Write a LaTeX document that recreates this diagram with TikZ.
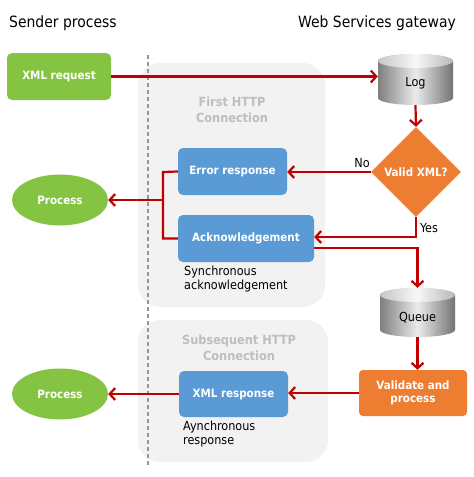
\documentclass[tikz,border=0pt]{standalone}
\usepackage{fontspec}
\setmainfont{DejaVu Sans Condensed}
\usetikzlibrary{arrows.meta,shapes.geometric,calc}
\definecolor{cgreen}{RGB}{132,196,66}
\definecolor{cblue}{RGB}{91,155,213}
\definecolor{corange}{RGB}{237,125,49}
\definecolor{cpanel}{RGB}{242,242,242}
\definecolor{chead}{RGB}{190,190,190}
\definecolor{cred}{RGB}{192,0,0}
\definecolor{cdash}{RGB}{150,150,150}
\newcommand{\cylshape}[4]{% cx, top, bottom, halfwidth
  \shade[left color=black!50, right color=black!55, middle color=black!8]
    (#1-#4,-#2-7) -- (#1-#4,-#3+7) arc[start angle=180,end angle=360,x radius=#4,y radius=7]
    -- (#1+#4,-#2-7) arc[start angle=0,end angle=180,x radius=#4,y radius=7] -- cycle;
  \shade[left color=black!22, right color=black!28, middle color=black!3]
    (#1,-#2-7) ellipse[x radius=#4,y radius=7];
}
\begin{document}
\begin{tikzpicture}[x=1pt,y=1pt,
  boxlbl/.style={font=\fontsize{11.5}{12.7}\selectfont\bfseries, text=white, align=center},
  gbox/.style={boxlbl, fill=cgreen, rounded corners=5pt, inner sep=0pt},
  bbox/.style={boxlbl, fill=cblue, rounded corners=5pt, inner sep=0pt},
  obox/.style={boxlbl, fill=corange, rounded corners=4pt, inner sep=0pt},
  proc/.style={boxlbl, ellipse, fill=cgreen, inner sep=0pt, minimum width=96pt, minimum height=51pt},
  cylnode/.style={inner sep=0pt, font=\fontsize{12.5}{14}\selectfont},
  panel/.style={fill=cpanel, rounded corners=22pt},
  headtxt/.style={font=\fontsize{12.6}{15.5}\selectfont\bfseries, text=chead, align=center},
  note/.style={font=\fontsize{12.5}{13.5}\selectfont, align=left, inner sep=0pt},
  title/.style={font=\fontsize{15.5}{18}\selectfont, inner sep=0pt},
  conn/.style={draw=cred, line width=2.2pt},
  arr/.style={conn, -{Straight Barb[length=5.5pt,width=12pt,line width=2.2pt]}},
]
\useasboundingbox (0,0) rectangle (474,-477);
% panels
\fill[panel] (138,-63) rectangle (325,-307);
\fill[panel] (138,-320) rectangle (328,-462);
\node[headtxt] (h1) at (232,-110) {First HTTP\\Connection};
\node[headtxt] (h2) at (239,-348) {Subsequent HTTP\\Connection};
% dashed separator
\draw[cdash, line width=1.2pt, dash pattern=on 4pt off 3pt] (148,-55) -- (148,-466);
% titles
\node[title, anchor=base west] (t1) at (9,-27) {Sender process};
\node[title, anchor=base east] (t2) at (456,-27) {Web Services gateway};
% cylinders
\cylshape{415.5}{54}{105}{37.5}
\cylshape{417.5}{288}{337}{37.5}
\node[cylnode, minimum width=75pt, minimum height=51pt, label={[cylnode, yshift=-4pt]center:Log}] (log) at (415.5,-79.5) {};
\node[cylnode, minimum width=75pt, minimum height=49pt, label={[cylnode, yshift=-5pt]center:Queue}] (queue) at (417.5,-312.5) {};
% nodes
\node[gbox, minimum width=104pt, minimum height=47pt] (xreq) at (59,-76.5) {XML request};
\node[diamond, aspect=1, fill=corange, minimum size=90pt, inner sep=0pt, boxlbl] (valid) at (416,-172) {Valid XML?};
\node[bbox, minimum width=109pt, minimum height=47pt] (err) at (232.5,-171.5) {Error response};
\node[bbox, minimum width=136pt, minimum height=47pt] (ack) at (246,-238.5) {Acknowledgement};
\node[proc] (p1) at (60,-200) {Process};
\node[obox, minimum width=108pt, minimum height=46pt] (val) at (413,-393) {Validate and\\process};
\node[bbox, minimum width=109pt, minimum height=46pt] (xresp) at (233.5,-394) {XML response};
\node[proc] (p2) at (60,-394) {Process};
\node[note, anchor=north west] (n1) at (184,-266) {Synchronous\\acknowledgement};
\node[note, anchor=north west] (n2) at (183,-421) {Aynchronous\\response};
\node[note] (no) at (362,-163) {No};
\node[note] (yes) at (429,-228) {Yes};
% connectors
\draw[arr] (xreq.east) -- (xreq.east -| log.west);
\draw[arr] (log.south) -- (valid.north);
\draw[arr] (valid.west) -- (err.east |- valid.west);
\coordinate (yb) at ($(ack.east)+(0,1.5)$);
\draw[arr] (valid.south) |- (yb);
\coordinate (ab) at ($(ack.east)+(0,-9.5)$);
\draw[arr] (ab) -| (queue.north);
\coordinate (jt) at (163,-172);
\coordinate (jm) at (163,-200);
\draw[conn] (err.west) -- (jt) |- (ack.west);
\draw[arr] (jm) -- (p1.east);
\draw[arr] (queue.south) -- (queue.south |- val.north);
\draw[arr] (val.west) -- (xresp.east |- val.west);
\draw[arr] (xresp.west) -- (p2.east |- xresp.west);
\end{tikzpicture}
\end{document}
